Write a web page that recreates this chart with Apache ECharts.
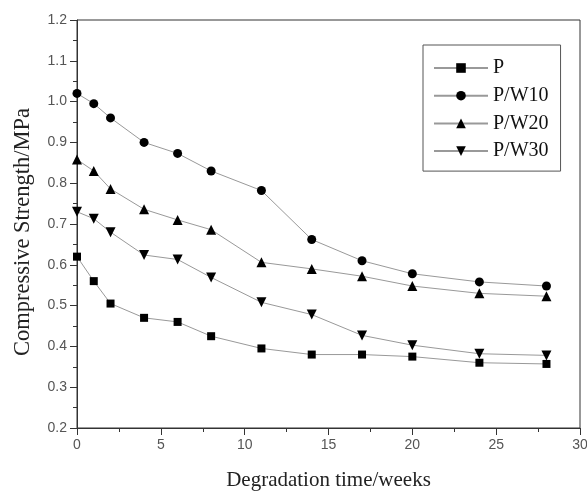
<!DOCTYPE html>
<html><head><meta charset="utf-8">
<script src="https://cdn.jsdelivr.net/npm/echarts@6/dist/echarts.min.js"></script>
<style>html,body{margin:0;padding:0;background:#fff}#c{width:587px;height:493px}</style>
</head><body><div id="c"></div>
<script>
const weeks = [0, 1, 2, 4, 6, 8, 11, 14, 17, 20, 24, 28];
const P     = [0.62, 0.56, 0.505, 0.47, 0.46, 0.425, 0.395, 0.38, 0.38, 0.375, 0.36, 0.357];
const PW10  = [1.02, 0.995, 0.96, 0.90, 0.873, 0.83, 0.782, 0.662, 0.61, 0.578, 0.558, 0.548];
const PW20  = [0.858, 0.83, 0.786, 0.736, 0.71, 0.686, 0.606, 0.59, 0.572, 0.548, 0.53, 0.523];
const PW30  = [0.73, 0.713, 0.68, 0.624, 0.613, 0.569, 0.508, 0.478, 0.427, 0.403, 0.382, 0.378];
const names = ['P', 'P/W10', 'P/W20', 'P/W30'];
const seriesVals = [P, PW10, PW20, PW30];
const symbols = ['rect', 'circle', 'triangle', 'triangle'];
const symbolSizes = [8, 9, 10, 10];
const rotates = [0, 0, 0, 180];

const chart = echarts.init(document.getElementById('c'), null, {renderer: 'canvas'});
const axisLineStyle = {color: '#333', width: 1};
chart.setOption({
  animation: false,
  backgroundColor: '#fff',
  grid: {left: 77, right: 7, top: 20, bottom: 65, show: true, borderColor: '#333', borderWidth: 1,
    containLabel: false, outerBoundsMode: 'none'},
  legend: {
    left: 423, top: 45, orient: 'vertical',
    data: names,
    itemWidth: 54, itemHeight: 12, itemGap: 7.7,
    padding: [13, 12, 10, 10],
    borderColor: '#555', borderWidth: 1,
    textStyle: {fontFamily: 'Liberation Serif', fontSize: 20, lineHeight: 20, color: '#111'}
  },
  xAxis: {
    type: 'value', min: 0, max: 30, interval: 5,
    name: 'Degradation time/weeks', nameLocation: 'middle', nameGap: 42,
    nameTextStyle: {fontFamily: 'Liberation Serif', fontSize: 21, color: '#222'},
    axisLine: {show: true, lineStyle: axisLineStyle},
    axisTick: {show: true, inside: false, length: 7, lineStyle: axisLineStyle},
    minorTick: {show: true, splitNumber: 2, length: 4, lineStyle: {color: '#333'}},
    splitLine: {show: false},
    axisLabel: {fontFamily: 'Liberation Sans', fontSize: 14, color: '#555', margin: 10}
  },
  yAxis: {
    type: 'value', min: 0.2, max: 1.2, interval: 0.1,
    name: 'Compressive Strength/MPa', nameLocation: 'middle', nameGap: 42,
    nameTextStyle: {fontFamily: 'Liberation Serif', fontSize: 22.5, color: '#222', padding: [0, 16, 0, 0]},
    axisLine: {show: true, lineStyle: axisLineStyle},
    axisTick: {show: true, inside: false, length: 7, lineStyle: axisLineStyle},
    minorTick: {show: true, splitNumber: 2, length: 4, lineStyle: {color: '#333'}},
    splitLine: {show: false},
    axisLabel: {fontFamily: 'Liberation Sans', fontSize: 14, color: '#555', margin: 10,
      formatter: v => v.toFixed(1)}
  },
  series: names.map((n, i) => ({
    name: n, type: 'line',
    data: weeks.map((w, j) => [w, seriesVals[i][j]]),
    symbol: symbols[i], symbolSize: symbolSizes[i], symbolRotate: rotates[i],
    showAllSymbol: true,
    lineStyle: {color: '#999', width: 1},
    itemStyle: {color: '#000', borderWidth: 0}
  }))
});
</script></body></html>
